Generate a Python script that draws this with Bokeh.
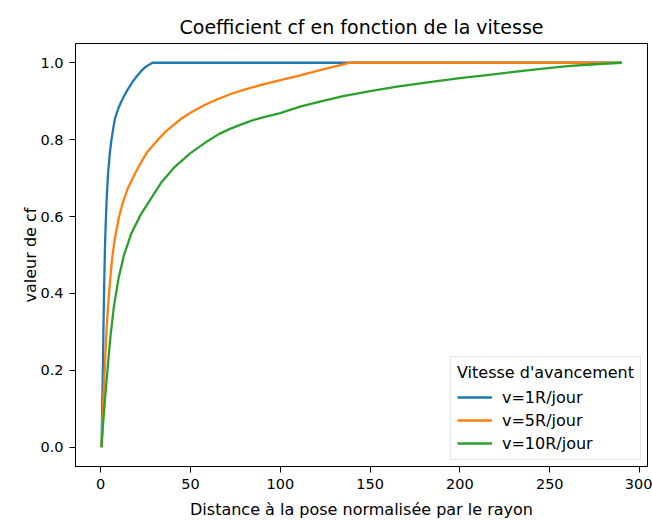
from bokeh.plotting import figure
from bokeh.models import Range1d, FixedTicker, PrintfTickFormatter, Legend, LegendItem
from bokeh.embed import file_html
from bokeh.resources import INLINE

# Data
blue_x = [0.5, 0.7, 0.9, 1.1, 1.3, 1.6, 2.0, 2.4, 2.8, 3.4, 4.1, 5.0, 5.9, 7.0, 8.0, 9.0, 10.2,
          11.5, 13.0, 14.5, 16.0, 18.0, 20.0, 22.5, 25.0, 27.0, 28.8, 290]
blue_y = [0.0, 0.06, 0.12, 0.17, 0.22, 0.32, 0.43, 0.52, 0.58, 0.65, 0.71, 0.76, 0.796, 0.83, 0.855,
          0.87, 0.885, 0.899, 0.913, 0.926, 0.937, 0.952, 0.964, 0.978, 0.989, 0.995, 1.0, 1.0]

orange_x = [0.5, 1.0, 1.5, 2.2, 3.0, 4.1, 5.2, 6.5, 8.0, 10.0, 12.1, 15.0, 19.5, 23, 26, 31.5, 36, 40,
            45, 50, 57, 65, 72, 80, 90, 100, 110, 120, 130, 139, 290]
orange_y = [0.0, 0.07, 0.13, 0.196, 0.28, 0.367, 0.43, 0.496, 0.545, 0.595, 0.632, 0.672, 0.715, 0.745,
            0.768, 0.798, 0.82, 0.836, 0.855, 0.87, 0.888, 0.905, 0.918, 0.93, 0.943, 0.955, 0.966,
            0.978, 0.99, 1.0, 1.0]

green_x = [0.5, 1.5, 2.5, 3.7, 5.5, 7.4, 10, 13, 17, 22.3, 27.8, 34, 40.8, 50, 59.4, 66, 72, 78, 85, 92,
           100, 111, 122, 135, 150, 165, 185, 200, 215, 230, 245, 260, 275, 290]
green_y = [0.0, 0.07, 0.13, 0.196, 0.29, 0.367, 0.44, 0.5, 0.555, 0.605, 0.645, 0.69, 0.727, 0.765, 0.796,
           0.815, 0.828, 0.839, 0.851, 0.86, 0.869, 0.886, 0.899, 0.913, 0.926, 0.938, 0.951, 0.96,
           0.968, 0.976, 0.984, 0.991, 0.996, 1.0]

series_labels = ["v=1R/jour", "v=5R/jour", "v=10R/jour"]
colors = ["#1f77b4", "#ff7f0e", "#2ca02c"]
x_ticks = [0, 50, 100, 150, 200, 250, 300]
y_ticks = [0.0, 0.2, 0.4, 0.6, 0.8, 1.0]

FONT = "DejaVu Sans"

p = figure(width=652, height=521, output_backend="svg", toolbar_location=None,
           x_range=Range1d(-14.0, 304.4), y_range=Range1d(-0.05, 1.05),
           min_border_left=75, min_border_right=5, min_border_top=43, min_border_bottom=52,
           title="Coefficient cf en fonction de la vitesse")

p.title.text_font = FONT
p.title.text_font_size = "19px"
p.title.text_font_style = "normal"
p.title.align = "center"
p.title.text_color = "black"
p.title.standoff = 12

p.outline_line_color = "black"
p.outline_line_width = 1
p.xgrid.visible = False
p.ygrid.visible = False

for ax in (p.xaxis, p.yaxis):
    ax.axis_line_color = "black"
    ax.major_tick_line_color = "black"
    ax.major_tick_out = 6
    ax.major_tick_in = 0
    ax.minor_tick_line_color = None
    ax.major_label_text_font = FONT
    ax.major_label_text_font_size = "14.5px"
    ax.major_label_text_color = "black"
    ax.axis_label_text_font = FONT
    ax.axis_label_text_font_size = "16px"
    ax.axis_label_text_font_style = "normal"
    ax.axis_label_text_color = "black"
    ax.major_label_standoff = 6

p.xaxis.ticker = FixedTicker(ticks=x_ticks)
p.yaxis.ticker = FixedTicker(ticks=y_ticks)
p.yaxis.formatter = PrintfTickFormatter(format="%.1f")
p.xaxis.axis_label = "Distance à la pose normalisée par le rayon"
p.yaxis.axis_label = "valeur de cf"
p.xaxis.axis_label_standoff = 8
p.yaxis.axis_label_standoff = -3

r1 = p.line(blue_x, blue_y, line_color=colors[0], line_width=2.3)
r2 = p.line(orange_x, orange_y, line_color=colors[1], line_width=2.3)
r3 = p.line(green_x, green_y, line_color=colors[2], line_width=2.3)

legend = Legend(items=[LegendItem(label=series_labels[0], renderers=[r1]),
                       LegendItem(label=series_labels[1], renderers=[r2]),
                       LegendItem(label=series_labels[2], renderers=[r3])],
                location="bottom_right", title="Vitesse d'avancement")
legend.title_text_font = FONT
legend.title_text_font_size = "16px"
legend.title_text_font_style = "normal"
legend.title_text_color = "black"
legend.title_standoff = 5
legend.label_text_font = FONT
legend.label_text_font_size = "16px"
legend.label_text_color = "black"
legend.glyph_width = 35
legend.glyph_height = 20
legend.label_height = 20
legend.label_standoff = 10
legend.spacing = 3
legend.padding = 6
legend.margin = 6
legend.border_line_color = "#cccccc"
legend.background_fill_alpha = 0.8
p.add_layout(legend)

open("out.html", "w").write(file_html(p, INLINE))
